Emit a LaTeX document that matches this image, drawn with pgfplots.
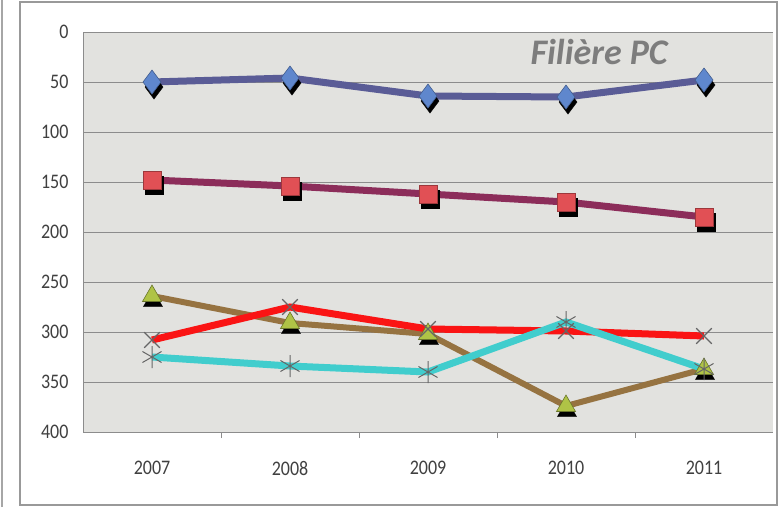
\documentclass[border=0pt]{standalone}
\usepackage{pgfplots}
\pgfplotsset{compat=1.18}
\usepackage{fontspec}
\setmainfont{Carlito}
\definecolor{bgtex}{RGB}{226,226,223}
\definecolor{gridc}{RGB}{140,140,140}
\definecolor{sblue}{RGB}{90,92,150}
\definecolor{fblue}{RGB}{95,135,205}
\definecolor{smag}{RGB}{140,45,90}
\definecolor{fred}{RGB}{225,80,85}
\definecolor{sbrown}{RGB}{150,115,65}
\definecolor{folive}{RGB}{175,195,70}
\definecolor{sred}{RGB}{250,20,20}
\definecolor{scyan}{RGB}{65,205,205}
\definecolor{titc}{RGB}{125,125,125}
\begin{document}
\begin{tikzpicture}[x=1pt,y=1pt]
\useasboundingbox (0,0) rectangle (779,507);
\fill[white] (0,0) rectangle (779,507);
\draw[gray!80, line width=1.5pt] (20,2) rectangle (777,505);
\draw[gray!70, line width=2pt] (2,0) -- (2,507);
\begin{axis}[
  at={(83pt,75pt)}, anchor=south west,
  scale only axis, width=690pt, height=400pt,
  xmin=-0.5, xmax=4.5, ymin=0, ymax=400,
  y dir=reverse,
  axis background/.style={fill=bgtex},
  axis x line*=bottom, axis y line*=left,
  axis line style={gridc, line width=0.8pt},
  xtick={0,1,2,3,4},
  xticklabels={2007,2008,2009,2010,2011},
  extra x ticks={0.5,1.5,2.5,3.5},
  extra x tick labels={},
  extra x tick style={major tick length=6pt, tick style={gridc, line width=0.8pt}, tick align=outside},
  major tick length=0pt,
  xticklabel style={font=\fontsize{18}{20}\selectfont, text=black!75, yshift=-25pt, yscale=1.15},
  ytick={0,50,...,400},
  ymajorgrids,
  grid style={gridc, line width=0.8pt},
  ytick style={gridc},
  yticklabel style={font=\fontsize{18}{20}\selectfont, text=black!75, xshift=-11pt, yscale=1.15},
  /pgf/number format/assume math mode=true,
  clip=false,
]
% shadows of markers
\addplot[only marks, black, mark=diamond*, mark size=12pt, mark options={xshift=2pt, yshift=-5pt}]
  coordinates {(0,50) (1,46) (2,64) (3,65) (4,48)};
\addplot[sblue, line width=7pt, mark=diamond*, mark size=12pt, mark options={fill=fblue, draw=fblue!70!black, line width=0.6pt}]
  coordinates {(0,50) (1,46) (2,64) (3,65) (4,48)};
\addplot[only marks, black, mark=square*, mark size=9pt, mark options={xshift=2pt, yshift=-5pt}]
  coordinates {(0,148) (1,154) (2,162) (3,170) (4,185)};
\addplot[smag, line width=7pt, mark=square*, mark size=9pt, mark options={fill=fred, draw=fred!70!black, line width=0.6pt}]
  coordinates {(0,148) (1,154) (2,162) (3,170) (4,185)};
\addplot[only marks, black, mark=triangle*, mark size=11pt, mark options={xshift=1pt, yshift=-5pt}]
  coordinates {(0,264) (1,291) (2,302) (3,374) (4,337)};
\addplot[sbrown, line width=6pt, mark=triangle*, mark size=11pt, mark options={fill=folive, draw=folive!60!black, line width=0.6pt}]
  coordinates {(0,264) (1,291) (2,302) (3,374) (4,337)};
\addplot[sred, line width=7pt, mark=x, mark size=11pt, mark options={draw=black!60, line width=1.2pt}]
  coordinates {(0,308) (1,275) (2,297) (3,299) (4,304)};
\addplot[scyan, line width=7pt, mark=asterisk, mark size=11pt, mark options={draw=black!60, line width=1pt}]
  coordinates {(0,325) (1,334) (2,340) (3,290) (4,337)};
\node[font=\fontsize{36}{40}\selectfont\bfseries\itshape, text=titc, anchor=center] at (axis cs:3.24,20) {Filière PC};
\end{axis}
\end{tikzpicture}
\end{document}
